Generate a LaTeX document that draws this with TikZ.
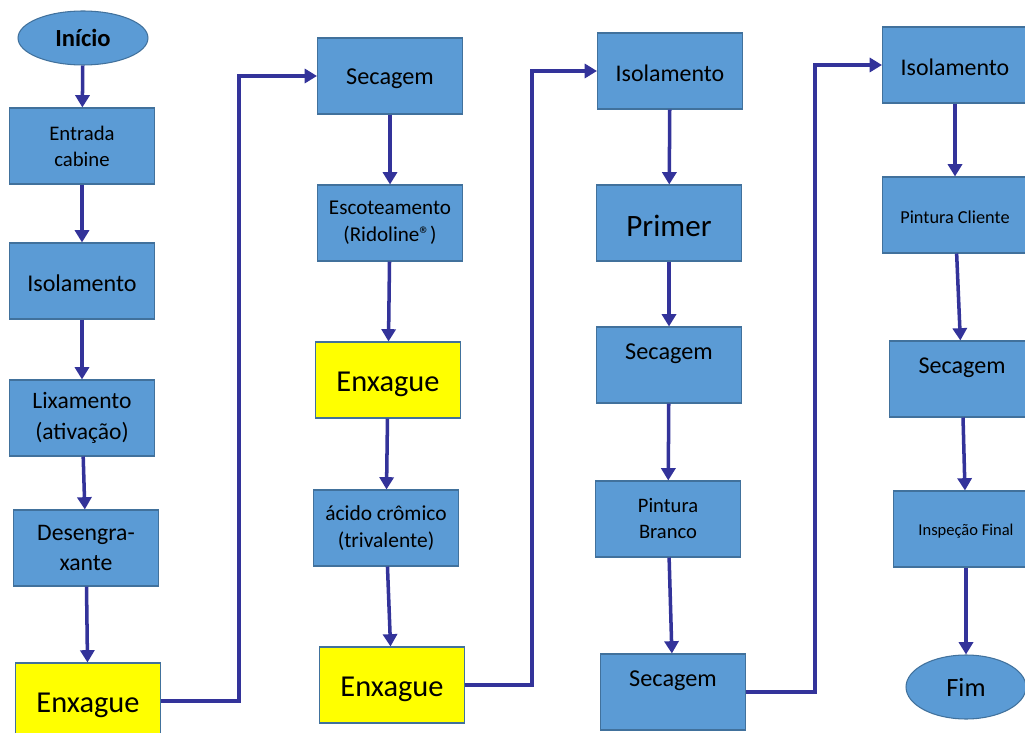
\documentclass[tikz,border=0pt]{standalone}
\usepackage{fontspec}
\setmainfont{Carlito}
\usetikzlibrary{arrows.meta,shapes.geometric}
\definecolor{stepfill}{HTML}{5B9BD5}
\definecolor{stepedge}{HTML}{41719C}
\definecolor{rinsefill}{HTML}{FFFF00}
\definecolor{flowink}{HTML}{33339A}
\newcommand{\fsz}[2]{\fontsize{#1}{#2}\selectfont}

\begin{document}
\begin{tikzpicture}[
  x=0.02cm,
  y=-0.02cm,
  every node/.style={text=black},
  stepbox/.style={rectangle, draw=stepedge, line width=0.6pt, fill=stepfill,
    minimum width=2.9cm, minimum height=1.52cm, align=center, inner sep=2pt,
    execute at begin node={\rule{0pt}{0.9em}}},
  rinsebox/.style={stepbox, fill=rinsefill, font=\fsz{17.3}{21}},
  startstop/.style={ellipse, draw=stepedge, line width=0.6pt, fill=stepfill,
    inner sep=0pt},
  raised/.style={text depth=0.66cm},
  flow/.style={flowink, line width=2pt, -{Triangle[length=7pt, width=8pt]}}
]
  \useasboundingbox (0,0) rectangle (1025,733);

  % ================= first column ======================================
  \node[startstop, minimum width=2.6cm, minimum height=1.08cm,
        font=\bfseries\fsz{14}{17}] (inicio) at (83,38) {Início};
  \node[stepbox, font=\fsz{11.8}{14.8}] (entrada) at (82,146) {Entrada\\cabine};
  \node[stepbox, font=\fsz{13.7}{17}] (iso1) at (82,281) {Isolamento};
  \node[stepbox, font=\fsz{13.4}{17.6}] (lixa) at (82,418) {Lixamento\\(ativação)};
  \node[stepbox, font=\fsz{13.5}{17.2}] (desengr) at (86,548) {Desengra-\\xante};
  \node[rinsebox] (enx1) at (88,701) {Enxague};

  % ================= second column =====================================
  \node[stepbox, font=\fsz{13.8}{17}] (sec1) at (390,76) {Secagem};
  \node[stepbox, font=\fsz{12}{15.4}] (escot) at (390,223)
    {Escoteamento\\(Ridoline®)};
  \node[rinsebox] (enx2) at (388,380) {Enxague};
  \node[stepbox, font=\fsz{12.2}{15.4}] (acido) at (386,528)
    {ácido crômico\\(trivalente)};
  \node[rinsebox] (enx3) at (392,685) {Enxague};

  % ================= third column ======================================
  \node[stepbox, font=\fsz{13.6}{17}] (iso2) at (670,71) {Isolamento};
  \node[stepbox, font=\fsz{17.7}{21}] (primer) at (669,223) {Primer};
  % the two drying steps here carry their text near the top edge
  \node[stepbox, raised, font=\fsz{13.8}{17}] (sec2) at (669,365) {Secagem};
  \node[stepbox, font=\fsz{11.7}{14.8}] (pint) at (668,519) {Pintura\\Branco};
  \node[stepbox, raised, font=\fsz{13.8}{17}] (sec3) at (673,692) {Secagem};

  % ================= fourth column =====================================
  \node[stepbox, font=\fsz{13.6}{17}] (iso3) at (955,65) {Isolamento};
  \node[stepbox, font=\fsz{10.4}{13}] (pcli) at (955,215) {Pintura Cliente};
  \node[stepbox, raised, font=\fsz{13.7}{17}] (sec4) at (962,379) {Secagem};
  \node[stepbox, font=\fsz{9.4}{12}] (insp) at (966,529) {Inspeção Final};
  \node[startstop, minimum width=2.4cm, minimum height=1.28cm,
        font=\fsz{15}{18}] (fim) at (966,687) {Fim};

  % ================= arrows inside the columns =========================
  \draw[flow] (inicio) -- (entrada);
  \draw[flow] (entrada) -- (iso1);
  \draw[flow] (iso1) -- (lixa);
  \draw[flow] (lixa) -- (desengr);
  \draw[flow] (desengr) -- (enx1);

  \draw[flow] (sec1) -- (escot);
  \draw[flow] (escot) -- (enx2);
  \draw[flow] (enx2) -- (acido);
  \draw[flow] (acido) -- (enx3);

  \draw[flow] (iso2) -- (primer);
  \draw[flow] (primer) -- (sec2);
  \draw[flow] (sec2) -- (pint);
  \draw[flow] (pint) -- (sec3);

  \draw[flow] (iso3) -- (pcli);
  \draw[flow] (pcli) -- (sec4);
  \draw[flow] (sec4) -- (insp);
  \draw[flow] (insp) -- (fim);

  % ================= links from the foot of one column to the next =====
  \coordinate (bend1) at (239,400);
  \coordinate (bend2) at (532,400);
  \coordinate (bend3) at (815,400);
  \draw[flow] (enx1.east) -| (bend1) |- (sec1.west);
  \draw[flow] (enx3.east) -| (bend2) |- (iso2.west);
  \draw[flow] (sec3.east) -| (bend3) |- (iso3.west);
\end{tikzpicture}
\end{document}
